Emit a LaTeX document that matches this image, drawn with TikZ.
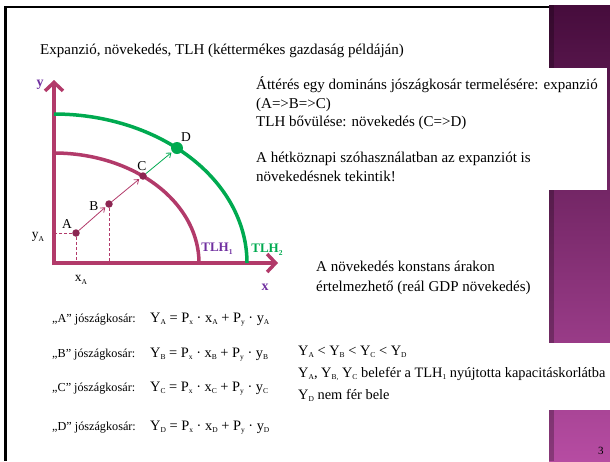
\documentclass[tikz,border=0pt]{standalone}
\usepackage{fontspec}
\setmainfont{Liberation Serif}
\usetikzlibrary{arrows.meta}
\definecolor{axc}{RGB}{178,58,106}
\definecolor{dotc}{RGB}{140,38,82}
\definecolor{grn}{RGB}{0,170,80}
\definecolor{prp}{RGB}{112,48,160}
\definecolor{bandtop}{RGB}{70,12,60}
\definecolor{bandmid}{RGB}{125,42,112}
\definecolor{bandbot}{RGB}{182,76,162}
\newcommand\Sb[1]{\raisebox{-0.2em}{\fontsize{7.5}{8}\selectfont #1}}
\begin{document}
\begin{tikzpicture}[x=1pt,y=-1pt,
  txt/.style={anchor=base west,inner sep=0pt,font=\fontsize{15}{18}\selectfont},
  ktxt/.style={anchor=base west,inner sep=0pt,font=\fontsize{12.2}{14}\selectfont},
  ftxt/.style={anchor=base west,inner sep=0pt,font=\fontsize{14.4}{16}\selectfont},
  lbl/.style={inner sep=0pt,font=\fontsize{13.5}{15}\selectfont},
  axis/.style={line width=3.5pt,color=axc,-{Straight Barb[length=8.5pt,width=18pt]}},
  frontier/.style={line width=3.5pt},
  pt/.style={circle,fill=dotc,inner sep=0pt,minimum size=7.5pt},
  move/.style={line width=0.8pt,-{Straight Barb[length=4pt,width=6pt]},shorten >=1pt},
  guide/.style={axc,line width=0.7pt,dash pattern=on 3pt off 2pt}]
\useasboundingbox (0,0) rectangle (610,461);
% band
\shade[top color=bandtop,middle color=bandmid,bottom color=bandbot] (549,5) rectangle (610,461);
\fill[black,fill opacity=0.25] (549,5) rectangle (554,461);
\fill[white] (549,68) rectangle (607,190);
\fill[white] (549,343) rectangle (610,410);
% frame
\draw[line width=2.5pt] (4,7) -- (549,7);
\draw[line width=2.5pt] (5.5,6) -- (5.5,461);
% title
\node[txt] (title) at (40,54) {Expanzió, növekedés, TLH (kéttermékes gazdaság példáján)};
% axes
\coordinate (O) at (54,263);
\coordinate (ytip) at (54,80);
\coordinate (xtip) at (278,263);
\draw[axis] (54,265) -- (ytip);
\draw[axis] (O) -- (xtip);
\node[font=\bfseries\fontsize{14}{16}\selectfont,text=prp,inner sep=0pt] (ylab) at (40,85) {y};
\node[font=\bfseries\fontsize{14}{16}\selectfont,text=prp,inner sep=0pt] (xlab) at (265,287) {x};
% frontiers
\draw[frontier,axc] plot[domain=0:90,samples=80,smooth] ({54+145*cos(\x)},{263-110*sin(\x)});
\draw[frontier,grn] plot[domain=0:90,samples=80,smooth] ({54+193*cos(\x)},{263-149*sin(\x)});
\node[font=\bfseries\fontsize{13}{15}\selectfont,text=prp,inner sep=0pt] (tlh1) at (217,249) {TLH\Sb{1}};
\node[font=\bfseries\fontsize{13}{15}\selectfont,text=grn,inner sep=0pt] (tlh2) at (267,250) {TLH\Sb{2}};
% guides
\coordinate (yA) at (54,233);
\coordinate (xAb) at (76,263);
\coordinate (xBb) at (109,263);
% points
\node[pt] (A) at (76,233) {};
\node[pt] (B) at (109,204) {};
\node[pt] (C) at (143,176) {};
\node[circle,fill=grn,inner sep=0pt,minimum size=12pt] (D) at (177,148) {};
\draw[guide] (A) -- (yA);
\draw[guide] (A) -- (xAb);
\draw[guide] (B) -- (xBb);
\draw[move,axc] (A) -- (B);
\draw[move,axc] (B) -- (C);
\draw[move,grn] (C) -- (D);
\node[lbl] (la) at (67,224) {A};
\node[lbl] (lb) at (94,206) {B};
\node[lbl] (lc) at (142,166) {C};
\node[lbl] (ld) at (186,137) {D};
\node[lbl] (lya) at (38,237) {y\Sb{A}};
\node[lbl] (lxa) at (81,280) {x\Sb{A}};
% right text
\node[txt] (r1) at (256,89.5) {Áttérés egy domináns jószágkosár termelésére: expanzió};
\node[txt] (r2) at (256,108) {(A=>B=>C)};
\node[txt] (r3) at (256,126.5) {TLH bővülése: növekedés (C=>D)};
\node[txt] (r4) at (256,162.5) {A hétköznapi szóhasználatban az expanziót is};
\node[txt] (r5) at (256,181) {növekedésnek tekintik!};
\node[txt] (g1) at (316,271) {A növekedés konstans árakon};
\node[txt] (g2) at (316,291) {értelmezhető (reál GDP növekedés)};
% baskets
\node[ktxt] (ka) at (52,322) {„A” jószágkosár:};
\node[ktxt] (kb) at (52,357) {„B” jószágkosár:};
\node[ktxt] (kc) at (52,391) {„C” jószágkosár:};
\node[ktxt] (kd) at (52,430) {„D” jószágkosár:};
\node[ftxt] (fa) at (150,322) {Y\Sb{A} = P\Sb{x} · x\Sb{A} + P\Sb{y} · y\Sb{A}};
\node[ftxt] (fb) at (150,357) {Y\Sb{B} = P\Sb{x} · x\Sb{B} + P\Sb{y} · y\Sb{B}};
\node[ftxt] (fc) at (150,391) {Y\Sb{C} = P\Sb{x} · x\Sb{C} + P\Sb{y} · y\Sb{C}};
\node[ftxt] (fd) at (150,430) {Y\Sb{D} = P\Sb{x} · x\Sb{D} + P\Sb{y} · y\Sb{D}};
\node[ftxt] (y1) at (298,355) {Y\Sb{A} < Y\Sb{B} < Y\Sb{C} < Y\Sb{D}};
\node[ftxt] (y2) at (298,377) {Y\Sb{A}, Y\Sb{B,} Y\Sb{C} belefér a TLH\Sb{1} nyújtotta kapacitáskorlátba};
\node[ftxt] (y3) at (298,399) {Y\Sb{D} nem fér bele};
\node[anchor=base west,inner sep=0pt,font=\fontsize{11}{13}\selectfont] (num) at (598,454) {3};
\end{tikzpicture}
\end{document}
